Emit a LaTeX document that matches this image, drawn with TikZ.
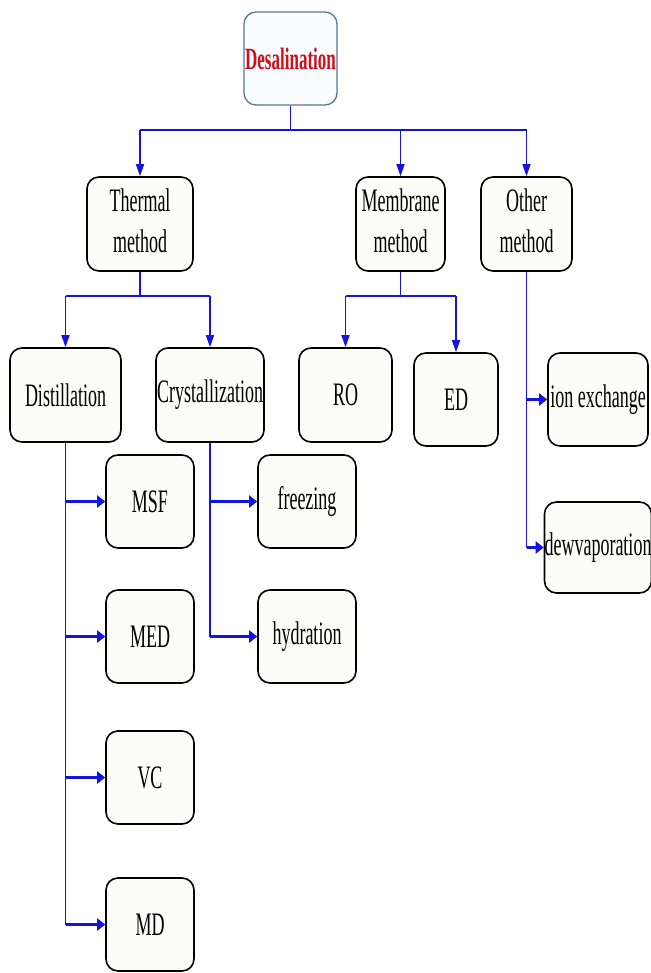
\documentclass[tikz,border=0pt]{standalone}
\usepackage{fontspec}
\setmainfont{Liberation Serif}
\usetikzlibrary{arrows.meta}
\definecolor{lineblue}{RGB}{20,20,225}
\definecolor{boxfill}{RGB}{252,252,248}
\definecolor{topborder}{RGB}{90,120,140}
\definecolor{topfill}{RGB}{250,253,255}
\definecolor{topred}{RGB}{210,15,25}
\newcommand\stx[1]{\scalebox{1}[1.82]{#1}}
\newcommand\sttwo[2]{\scalebox{1}[1.82]{\begin{tabular}{@{}c@{}}#1\\#2\end{tabular}}}
\tikzset{
  box/.style={draw=black, line width=1.6pt, fill=boxfill, rounded corners=12pt,
    inner sep=0pt, minimum height=93pt, font=\fontsize{18}{22}\selectfont},
  topbox/.style={box, draw=topborder, line width=1.3pt, fill=topfill,
    text=topred, font=\fontsize{17}{21}\selectfont\bfseries},
  vl/.style={draw=lineblue, line width=1.5pt},
  hl/.style={draw=lineblue, line width=2.6pt},
  downarrow/.style={vl, -{Triangle[length=12pt,width=8pt]}},
  rightarrow/.style={hl, -{Triangle[length=8pt,width=12pt]}}
}
\begin{document}
\begin{tikzpicture}[x=1pt,y=-1pt]
\fill[white] (0,0) rectangle (650,973);
\useasboundingbox (0,0) rectangle (650,973);
% nodes
\node[topbox, minimum width=93pt] (des) at (290.5,58.5) {\stx{Desalination}};
\node[box, minimum width=106pt, minimum height=94pt] (thermal) at (140,224) {\sttwo{Thermal}{method}};
\node[box, minimum width=89pt, minimum height=94pt] (membrane) at (400.5,224) {\sttwo{Membrane}{method}};
\node[box, minimum width=91pt, minimum height=94pt] (other) at (526.5,224) {\sttwo{Other}{method}};
\node[box, minimum width=111pt, minimum height=94pt] (distill) at (65.5,395) {\stx{Distillation}};
\node[box, minimum width=108pt, minimum height=94pt] (cryst) at (210,395) {\stx{Crystallization}};
\node[box, minimum width=93pt, minimum height=94pt] (ro) at (345.5,395) {\stx{RO}};
\node[box, minimum width=84pt] (ed) at (456,399.5) {\stx{ED}};
\node[box, minimum width=100pt] (ionex) at (598,399.5) {\stx{ion exchange}};
\node[box, minimum width=100pt, minimum height=91pt] (dewv) at (598,547.5) {\stx{dewvaporation}};
\node[box, minimum width=88pt] (msf) at (150,501.5) {\stx{MSF}};
\node[box, minimum width=98pt] (freez) at (307,501.5) {\stx{freezing}};
\node[box, minimum width=88pt] (med) at (150,636.5) {\stx{MED}};
\node[box, minimum width=98pt] (hydr) at (307,636.5) {\stx{hydration}};
\node[box, minimum width=88pt] (vc) at (150,777.5) {\stx{VC}};
\node[box, minimum width=88pt] (md) at (150,924.5) {\stx{MD}};
% junctions
\coordinate (j0) at (290.5,130);
\coordinate (j1) at (140,296);
\coordinate (j2) at (400.5,296);
% top level
\draw[vl] (des.south) -- (j0);
\draw[hl] (thermal.north |- j0) -- (other.north |- j0);
\draw[downarrow] (thermal.north |- j0) -- (thermal.north);
\draw[downarrow] (membrane.north |- j0) -- (membrane.north);
\draw[downarrow] (other.north |- j0) -- (other.north);
% thermal
\draw[vl] (thermal.south) -- (j1);
\draw[hl] (distill.north |- j1) -- (cryst.north |- j1);
\draw[downarrow] (distill.north |- j1) -- (distill.north);
\draw[downarrow] (cryst.north |- j1) -- (cryst.north);
% membrane
\draw[vl] (membrane.south) -- (j2);
\draw[hl] (ro.north |- j2) -- (ed.north |- j2);
\draw[downarrow] (ro.north |- j2) -- (ro.north);
\draw[downarrow] (ed.north |- j2) -- (ed.north);
% other
\draw[vl] (other.south) -- (other.south |- dewv.west);
\draw[rightarrow] (other.south |- ionex.west) -- (ionex.west);
\draw[rightarrow] (other.south |- dewv.west) -- (dewv.west);
% distillation
\draw[vl] (distill.south) -- (distill.south |- md.west);
\draw[rightarrow] (distill.south |- msf.west) -- (msf.west);
\draw[rightarrow] (distill.south |- med.west) -- (med.west);
\draw[rightarrow] (distill.south |- vc.west) -- (vc.west);
\draw[rightarrow] (distill.south |- md.west) -- (md.west);
% crystallization
\draw[vl] (cryst.south) -- (cryst.south |- hydr.west);
\draw[rightarrow] (cryst.south |- freez.west) -- (freez.west);
\draw[rightarrow] (cryst.south |- hydr.west) -- (hydr.west);
\end{tikzpicture}
\end{document}
